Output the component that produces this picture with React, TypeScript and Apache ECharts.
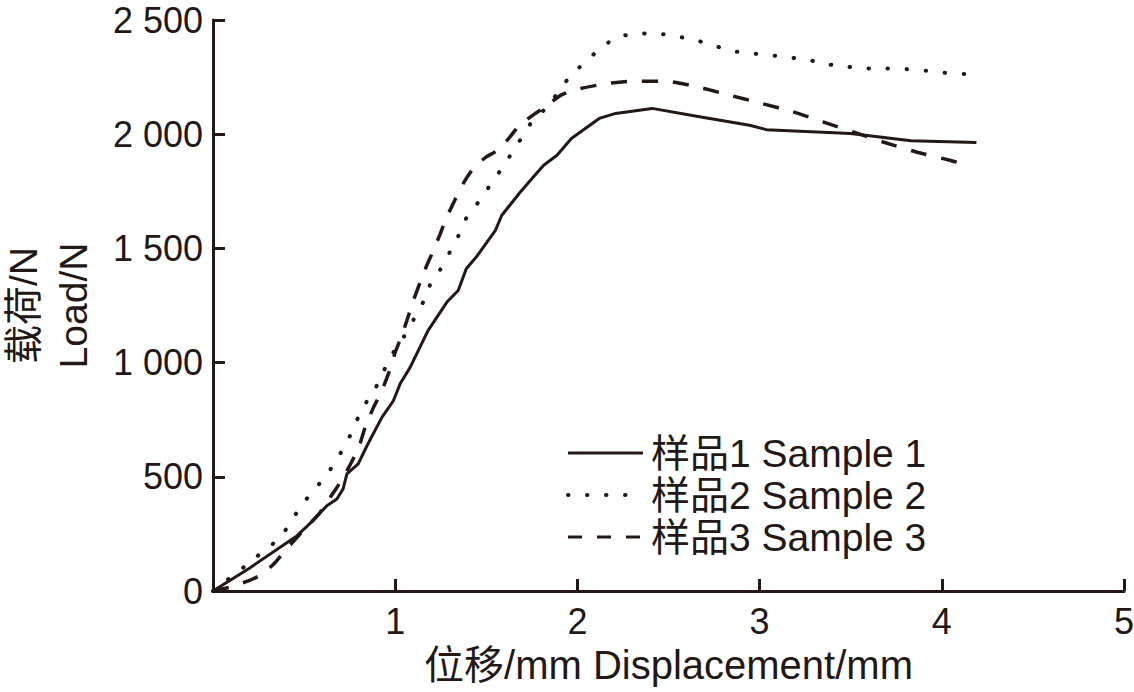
import React, { useEffect, useRef } from "react";
import * as echarts from "echarts";

const INK = "#231815";

const seriesNames = ["样品1 Sample 1", "样品2 Sample 2", "样品3 Sample 3"];

const sample1: [number, number][] = [
  [0, 0], [0.2, 100], [0.46, 241], [0.53, 294], [0.625, 373], [0.68, 403], [0.714, 447],
  [0.735, 513], [0.797, 557], [0.845, 636], [0.927, 760], [0.99, 833], [1.027, 907],
  [1.082, 979], [1.18, 1140], [1.284, 1265], [1.346, 1316], [1.39, 1411], [1.445, 1462],
  [1.55, 1579], [1.585, 1645], [1.687, 1747], [1.758, 1813], [1.815, 1864], [1.888, 1908],
  [1.967, 1981], [2.12, 2069], [2.21, 2091], [2.41, 2113], [2.67, 2076], [2.945, 2039],
  [3.037, 2020], [3.5, 2003], [3.83, 1971], [4.19, 1964],
];

const sample2: [number, number][] = [
  [0, 0], [0.194, 120], [0.277, 175], [0.36, 227], [0.43, 304], [0.478, 368], [0.551, 439],
  [0.625, 509], [0.68, 578], [0.735, 650], [0.78, 731], [0.826, 807], [0.89, 885],
  [0.936, 962], [0.99, 1045], [1.046, 1111], [1.1, 1187], [1.156, 1269], [1.19, 1338],
  [1.247, 1407], [1.3, 1484], [1.348, 1557], [1.393, 1637], [1.457, 1703], [1.52, 1776],
  [1.585, 1850], [1.64, 1918], [1.695, 1986], [1.75, 2054], [1.84, 2125], [1.95, 2244],
  [2.03, 2307], [2.112, 2365], [2.212, 2424], [2.32, 2439], [2.42, 2442], [2.53, 2430],
  [2.633, 2415], [2.743, 2390], [2.843, 2365], [2.953, 2354], [3.055, 2346], [3.165, 2336],
  [3.266, 2325], [3.375, 2306], [3.485, 2295], [3.586, 2288], [3.695, 2288], [3.805, 2285],
  [3.912, 2278], [4.016, 2269], [4.13, 2263],
];

const sample3: [number, number][] = [
  [0, 0], [0.1, 18], [0.194, 44], [0.26, 70], [0.332, 117], [0.387, 168], [0.46, 234],
  [0.58, 336], [0.617, 380], [0.68, 453], [0.735, 526], [0.8, 629], [0.835, 716],
  [0.881, 804], [0.927, 877], [0.982, 994], [1.0, 1045], [1.036, 1118], [1.064, 1184],
  [1.1, 1272], [1.137, 1352], [1.173, 1425], [1.21, 1491], [1.247, 1564], [1.283, 1637],
  [1.327, 1711], [1.373, 1784], [1.428, 1850], [1.5, 1901], [1.565, 1930], [1.63, 1988],
  [1.681, 2039], [1.764, 2088], [1.828, 2123], [1.91, 2171], [1.993, 2196], [2.165, 2222],
  [2.304, 2232], [2.487, 2232], [2.67, 2205], [2.835, 2171], [3.0, 2137], [3.183, 2098],
  [3.348, 2054], [3.513, 2010], [3.678, 1966], [3.86, 1922], [4.044, 1886], [4.09, 1876],
];

const xTicks = { min: 0, max: 5, interval: 1 };
const yTicks = { min: 0, max: 2500, interval: 500 };

const FONT = "'Liberation Sans', Arial, 'Noto Sans CJK SC', sans-serif";

function fmtThousands(v: number): string {
  const s = String(Math.round(v));
  return s.length > 3 ? s.slice(0, s.length - 3) + " " + s.slice(s.length - 3) : s;
}

export default function App() {
  const ref = useRef<HTMLDivElement>(null);
  useEffect(() => {
    if (!ref.current) return;
    const chart = echarts.init(ref.current, null, { renderer: "svg" });
    const axisCommon = {
      axisLine: { show: true, lineStyle: { color: INK, width: 3 } },
      axisTick: { show: true, inside: true, length: 12, lineStyle: { color: INK, width: 3 } },
      splitLine: { show: false },
    };
    const legendLeft = 568;
    const legendTop = 453;
    const rowGap = 42;
    const legendStyles = [
      { lineWidth: 3, lineDash: null as number[] | null, lineCap: "butt" },
      { lineWidth: 4, lineDash: [0.5, 18.5], lineCap: "round" },
      { lineWidth: 3, lineDash: [14, 15], lineCap: "butt" },
    ];
    const legendItems = seriesNames.map((name, i) => ({
      type: "group",
      x: legendLeft,
      y: legendTop + i * rowGap,
      children: [
        {
          type: "line",
          shape: { x1: 0, y1: 0, x2: i === 1 ? 62 : 75, y2: 0 },
          style: { stroke: INK, ...legendStyles[i] },
        },
        {
          type: "text",
          x: 83,
          y: 0,
          style: {
            text: name,
            fill: INK,
            font: `39px ${FONT}`,
            verticalAlign: "middle",
            align: "left",
          },
        },
      ],
    }));
    chart.setOption({
      animation: false,
      backgroundColor: "#ffffff",
      grid: {
        left: 213,
        right: 10,
        top: 20,
        bottom: 101,
        containLabel: false,
        outerBoundsMode: "none",
      },
      graphic: legendItems,
      xAxis: {
        type: "value",
        min: xTicks.min,
        max: xTicks.max,
        interval: xTicks.interval,
        ...axisCommon,
        axisLabel: {
          color: INK,
          fontSize: 36,
          fontFamily: FONT,
          margin: 12,
          formatter: (v: number) => (v === 0 ? "" : String(v)),
        },
        name: "位移/mm Displacement/mm",
        nameLocation: "middle",
        nameGap: 54,
        nameTextStyle: { color: INK, fontSize: 40, fontFamily: FONT },
      },
      yAxis: {
        type: "value",
        min: yTicks.min,
        max: yTicks.max,
        interval: yTicks.interval,
        ...axisCommon,
        axisLabel: {
          color: INK,
          fontSize: 36,
          fontFamily: FONT,
          margin: 10,
          formatter: (v: number) => fmtThousands(v),
        },
        name: "载荷/N\nLoad/N",
        nameLocation: "middle",
        nameRotate: 90,
        nameGap: 115,
        nameTextStyle: { color: INK, fontSize: 39, fontFamily: FONT, lineHeight: 50 },
      },
      series: [
        {
          name: seriesNames[0],
          type: "line",
          data: sample1,
          symbol: "none",
          showSymbol: false,
          lineStyle: { color: INK, width: 3, type: "solid" },
          itemStyle: { color: INK },
        },
        {
          name: seriesNames[1],
          type: "line",
          data: sample2,
          symbol: "none",
          showSymbol: false,
          smooth: 0.2,
          lineStyle: { color: INK, width: 4, type: [0.5, 18.5], cap: "round" },
          itemStyle: { color: INK },
        },
        {
          name: seriesNames[2],
          type: "line",
          data: sample3,
          symbol: "none",
          showSymbol: false,
          smooth: 0.2,
          lineStyle: { color: INK, width: 3.5, type: [16, 15] },
          itemStyle: { color: INK },
        },
      ],
    });
    return () => chart.dispose();
  }, []);
  return (
    <div
      ref={ref}
      style={{ position: "absolute", left: 0, top: 0, width: 1134, height: 692, background: "#fff" }}
    />
  );
}
